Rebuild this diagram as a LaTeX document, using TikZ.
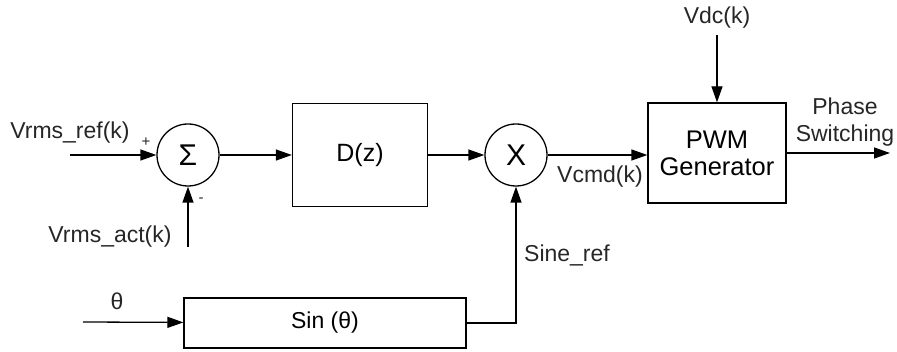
\documentclass[tikz,border=0pt]{standalone}
\usepackage{fontspec}
\setmainfont{Liberation Sans}
\usepackage{tikz}
\usetikzlibrary{positioning,arrows.meta,shapes,calc}

\begin{document}
\begin{tikzpicture}[x=1pt,y=-1pt,
    font=\fontsize{23}{27}\selectfont,
    blk/.style={draw,line width=1.3pt,shape=rectangle,inner sep=0pt,anchor=center},
    junc/.style={draw,line width=1.3pt,shape=circle,minimum size=62pt,inner sep=0pt,font=\fontsize{30}{32}\selectfont},
    sig/.style={line width=1.3pt,-{Triangle[length=16pt,width=11pt]}},
    lbl/.style={inner sep=0pt,text=black!85}]
    \useasboundingbox (0,0) rectangle (897,352);
    % blocks
    \node[junc] (sum) at (188,155) {Σ};
    \node[blk,minimum width=135pt,minimum height=103pt,font=\fontsize{25}{28}\selectfont] (dz) at (360,155) {D(z)};
    \node[junc] (mul) at (516,155) {X};
    \node[blk,minimum width=138pt,minimum height=100pt,align=center,font=\fontsize{25.5}{27}\selectfont] (pwm) at (717,153) {PWM\\Generator};
    \node[blk,minimum width=282pt,minimum height=50pt] (sin) at (325,323) {Sin (θ)};
    % free ends
    \coordinate (refin) at (70,155);
    \coordinate (actin) at (188,247);
    \coordinate (vdcin) at (717,35);
    \coordinate (phout) at (890,153);
    \coordinate (thin) at (83,322);
    % labels
    \node[lbl] (reflbl) at (70,133) {Vrms\_ref(k)};
    \node[lbl,font=\fontsize{15}{16}\selectfont] (plus) at (146,142) {+};
    \node[lbl] (actlbl) at (110,237) {Vrms\_act(k)};
    \node[lbl,font=\fontsize{15}{16}\selectfont] (minus) at (201,200) {-};
    \node[lbl] (vcmdlbl) at (600,177) {Vcmd(k)};
    \node[lbl] (vdclbl) at (717,18) {Vdc(k)};
    \node[lbl,align=center] (phlbl) at (845,122) {Phase\\Switching};
    \node[lbl] (thlbl) at (117,301) {θ};
    \node[lbl] (sinlbl) at (567,255) {Sine\_ref};
    % signals
    \draw[sig] (refin) -- (sum);
    \draw[sig] (actin) -- (sum);
    \draw[sig] (sum) -- (dz);
    \draw[sig] (dz) -- (mul);
    \draw[sig] (mul) -- (pwm.west |- mul);
    \draw[sig] (vdcin) -- (pwm);
    \draw[sig] (pwm) -- (phout);
    \draw[sig] (thin) -- (sin);
    \draw[sig] (sin) -| (mul);
\end{tikzpicture}
\end{document}
